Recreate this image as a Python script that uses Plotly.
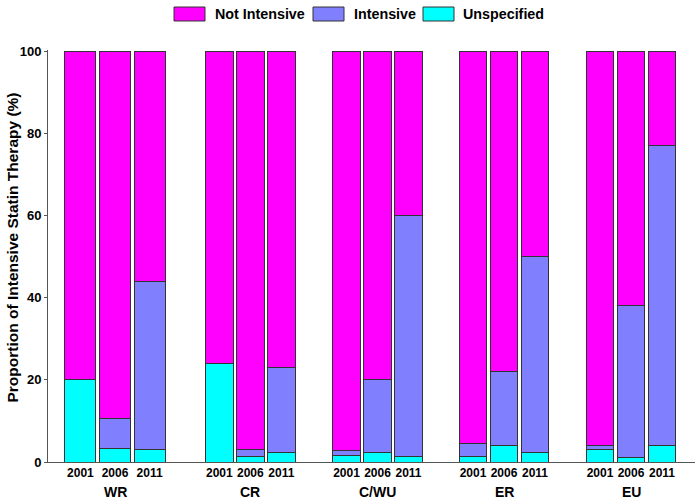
import plotly.graph_objects as go

groups = ["WR", "CR", "C/WU", "ER", "EU"]
years = ["2001", "2006", "2011"]
series_names = ["Not Intensive", "Intensive", "Unspecified"]
series_colors = ["#FF00FF", "#8080FF", "#00FFFF"]

# per bar, in order WR(2001,2006,2011), CR(...), C/WU(...), ER(...), EU(...)
unspecified = [20, 3.4, 3.0, 24, 1.3, 2.3, 1.6, 2.2, 1.3, 1.4, 4.0, 2.2, 3.0, 1.2, 4.0]
intensive_top = [20, 10.6, 44, 24, 3.1, 23, 2.9, 20, 60, 4.4, 22, 50, 4.0, 38, 77]
intensive = [t - u for t, u in zip(intensive_top, unspecified)]
not_intensive = [100 - t for t in intensive_top]

# ---- layout constants (horizontal placement of groups, in screen-like units) ----
W, H = 700, 503
PLOT_L, PLOT_R, PLOT_T, PLOT_B = 48, 695, 50, 462
group_center = [115, 250.3, 377.5, 504, 631]
group_pitch = [34.6, 31, 31, 31, 31]
group_width = [31, 27.8, 28.5, 27.8, 27.6]

positions, widths = [], []
for gi in range(len(groups)):
    for yi in range(len(years)):
        positions.append(group_center[gi] + (yi - 1) * group_pitch[gi])
        widths.append(group_width[gi])
year_labels = years * len(groups)


def px_x(sx):
    return (sx - PLOT_L) / (PLOT_R - PLOT_L)


def px_y(sy):
    return (PLOT_B - sy) / (PLOT_B - PLOT_T)


line = dict(color="#333333", width=1)
fig = go.Figure()
fig.add_bar(x=positions, y=unspecified, name=series_names[2], marker=dict(color=series_colors[2], line=line), width=widths)
fig.add_bar(x=positions, y=intensive, name=series_names[1], marker=dict(color=series_colors[1], line=line), width=widths)
fig.add_bar(x=positions, y=not_intensive, name=series_names[0], marker=dict(color=series_colors[0], line=line), width=widths)

for g, c in zip(groups, group_center):
    fig.add_annotation(x=c, y=0, xref="x", yref="paper", yshift=-30, text="<b>%s</b>" % g,
                       showarrow=False, font=dict(size=14, color="black"), yanchor="middle")

# y-axis title
fig.add_annotation(x=px_x(12), y=px_y(247.5), xref="paper", yref="paper", textangle=-90,
                   text="<b>Proportion of Intensive Statin Therapy (%)</b>", showarrow=False,
                   font=dict(size=15.5, color="black"), xanchor="center", yanchor="middle")

# legend (boxes + labels)
legend_box_left = [174, 313, 423]
legend_text_left = [213, 352, 461]
for name, col, bl, tl in zip(series_names, series_colors, legend_box_left, legend_text_left):
    fig.add_shape(type="rect", xref="paper", yref="paper",
                  x0=px_x(bl), x1=px_x(bl + 31), y0=px_y(21), y1=px_y(7),
                  fillcolor=col, line=dict(color="#333333", width=1))
    fig.add_annotation(x=px_x(tl), y=px_y(14), xref="paper", yref="paper", text="<b>%s</b>" % name,
                       showarrow=False, xanchor="left", yanchor="middle",
                       font=dict(size=14.3, color="black"))

fig.update_layout(
    barmode="stack",
    width=W, height=H,
    margin=dict(l=PLOT_L, r=W - PLOT_R, t=PLOT_T, b=H - PLOT_B, autoexpand=False),
    plot_bgcolor="white", paper_bgcolor="white",
    font=dict(family="Arial, Liberation Sans, sans-serif", color="black"),
    showlegend=False,
)

fig.update_xaxes(range=[PLOT_L, PLOT_R], tickvals=positions, ticktext=["<b>%s</b>" % y for y in year_labels],
                 tickfont=dict(size=12), showline=True, linecolor="#555555", linewidth=1,
                 ticks="", showgrid=False, zeroline=False, automargin=False)
fig.update_yaxes(range=[0, 100.3], tickvals=[0, 20, 40, 60, 80, 100],
                 ticktext=["<b>%d</b>" % v for v in [0, 20, 40, 60, 80, 100]],
                 tickfont=dict(size=13), ticks="outside", ticklen=3, tickcolor="#555555",
                 showline=True, linecolor="#555555", linewidth=1, showgrid=False, zeroline=False,
                 automargin=False)

fig.write_html("out.html", config={"displayModeBar": False},
               post_script="document.body.style.margin='0px';")
